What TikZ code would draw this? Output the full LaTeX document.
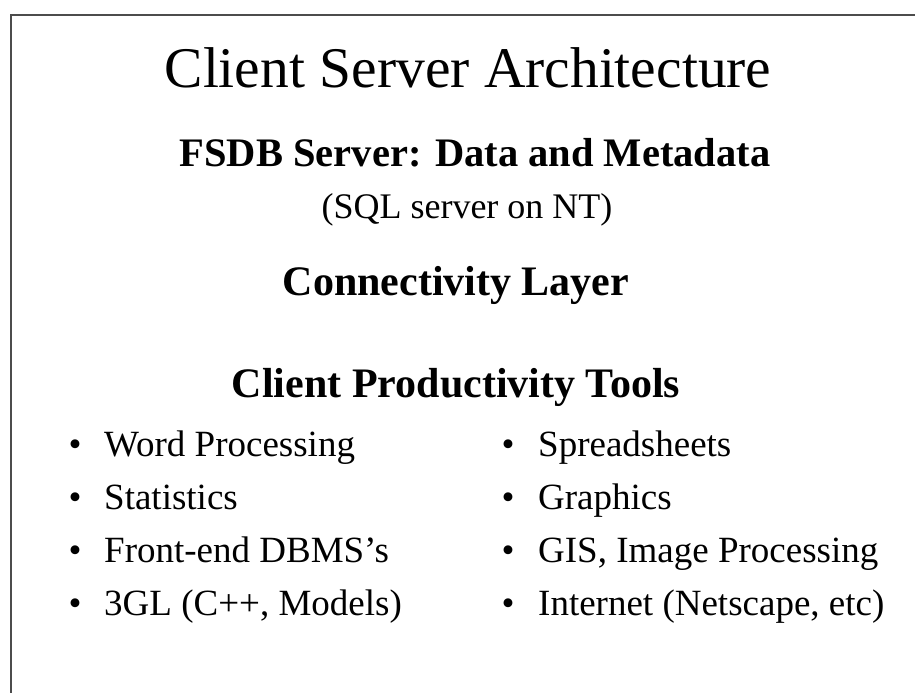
\documentclass[tikz,border=0pt]{standalone}
\usepackage{fontspec}
\setmainfont{Liberation Serif}
\begin{document}
\begin{tikzpicture}[x=1pt,y=-1pt,
  frame/.style={draw=black!70,line width=2pt},
  titletext/.style={font=\fontsize{57.5}{60}\selectfont,anchor=base,inner sep=0pt},
  headtext/.style={font=\fontsize{42}{46}\selectfont\bfseries,anchor=base,inner sep=0pt},
  subtext/.style={font=\fontsize{36}{39}\selectfont,anchor=base,inner sep=0pt},
  itemtext/.style={font=\fontsize{37}{40}\selectfont,anchor=base west,inner sep=0pt},
  bullet/.style={font=\fontsize{37}{40}\selectfont,anchor=base,inner sep=0pt}]
\useasboundingbox (0,0) rectangle (915,693);
\fill[white] (0,0) rectangle (915,693);
\coordinate (tl) at (11,15);
\coordinate (tr) at (915,15);
\coordinate (bl) at (11,693);
\draw[frame] (tr) -- (tl) -- (bl);
\node[titletext] (title) at (468,88) {Client Server Architecture};
\node[headtext,font=\fontsize{40.5}{44}\selectfont\bfseries] (server) at (475,166) {FSDB Server: Data and Metadata};
\node[subtext] (sql) at (467,218) {(SQL server on NT)};
\node[headtext] (conn) at (456,295) {Connectivity Layer};
\node[headtext] (client) at (456,397) {Client Productivity Tools};
\foreach \t [count=\i] in {Word Processing,Statistics,Front-end DBMS's,{3GL (C++, Models)}}{
  \node[bullet] (lb\i) at (75,{456+53*(\i-1)}) {\textbullet};
  \node[itemtext] (li\i) at (104,{456+53*(\i-1)}) {\t};
}
\foreach \t [count=\i] in {Spreadsheets,Graphics,{GIS, Image Processing},{Internet (Netscape, etc)}}{
  \node[bullet] (rb\i) at (508,{456+53*(\i-1)}) {\textbullet};
  \node[itemtext] (ri\i) at (538,{456+53*(\i-1)}) {\t};
}
\end{tikzpicture}
\end{document}
